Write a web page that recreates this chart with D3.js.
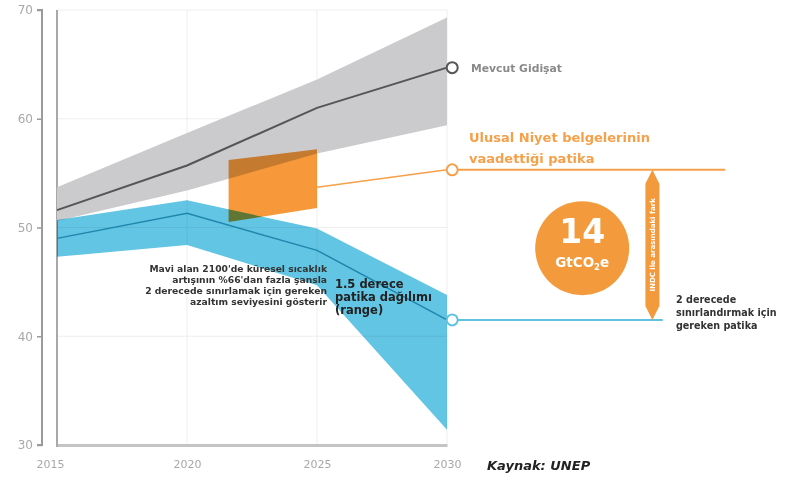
<!DOCTYPE html>
<html><head><meta charset="utf-8">
<script src="https://cdn.jsdelivr.net/npm/d3@7"></script>
<style>body{margin:0;background:#fff}svg{display:block;font-family:"DejaVu Sans",sans-serif}</style>
</head><body><svg id="c" width="785" height="482"></svg>
<script>
const years = [2015, 2020, 2025, 2030];
const trendLine = [51.6, 55.7, 61.0, 64.7];
const trendHigh = [53.7, 58.7, 63.6, 69.3];
const trendLow  = [50.6, 53.4, 56.8, 59.4];
const twoDegLine = [49.0, 51.3, 47.9, 41.5];
const twoDegHigh = [50.7, 52.5, 49.9, 43.8];
const twoDegLow  = [47.3, 48.4, 44.7, 31.4];
const ndcYears = [2021.6, 2025];
const ndcTop = [56.2, 57.2];
const ndcBottom = [50.5, 51.8];
const ndcPathYears = [2025, 2030];
const ndcPathValues = [53.7, 55.3];
const gap = 14;
const yTicks = [30, 40, 50, 60, 70];
const xTicks = [2015, 2020, 2025, 2030];

const svg = d3.select("#c");
const x = d3.scaleLinear().domain([2015, 2030]).range([57, 447]);
const y = d3.scaleLinear().domain([30, 70]).range([445, 10]);

// grid
svg.append("g").selectAll("line").data([40,50,60,70]).join("line")
  .attr("x1", x(2015)).attr("x2", x(2030)).attr("y1", d=>y(d)).attr("y2", d=>y(d))
  .attr("stroke", "#eeeeee").attr("stroke-width", 1);
svg.append("g").selectAll("line").data([2020, 2025, 2030]).join("line")
  .attr("x1", d=>x(d)).attr("x2", d=>x(d)).attr("y1", y(70)).attr("y2", y(30))
  .attr("stroke", "#eeeeee").attr("stroke-width", 1);

// y axis (offset)
const yAxis = d3.axisLeft(y).tickValues(yTicks).tickSize(5).tickPadding(4);
const ya = svg.append("g").attr("transform", "translate(42,0)").call(yAxis);
ya.select(".domain").attr("stroke", "#9a9a9a").attr("stroke-width", 2).attr("d", `M-5,${y(70)}H0V${y(30)}H-5`);
ya.selectAll(".tick line").attr("stroke", "#9a9a9a").attr("stroke-width", 1.5);
ya.selectAll("text").attr("fill", "#a8a8a8").attr("font-size", 12).attr("font-family", "DejaVu Sans");

// x axis
const xAxis = d3.axisBottom(x).tickValues(xTicks).tickFormat(d3.format("d")).tickSize(0).tickPadding(15);
const xa = svg.append("g").attr("transform", `translate(0,${y(30)})`).call(xAxis);
xa.select(".domain").attr("stroke", "#c4c4c4").attr("stroke-width", 3);
xa.selectAll("text").attr("fill", "#a8a8a8").attr("font-size", 11).attr("font-family", "DejaVu Sans")
  .attr("dx", d => d === 2015 ? -7 : 0);
svg.append("line").attr("x1", x(2015)).attr("x2", x(2015)).attr("y1", y(70)).attr("y2", y(30)+2)
  .attr("stroke", "#a8a8a8").attr("stroke-width", 2);

const idx = d3.range(years.length);
const area = (hi, lo) => d3.area().x(i=>x(years[i])).y0(i=>y(lo[i])).y1(i=>y(hi[i]))(idx);
const line = (v, xs) => d3.line().x(i=>x((xs||years)[i])).y(i=>y(v[i]))(d3.range(v.length));

// gray band
svg.append("path").attr("d", area(trendHigh, trendLow)).attr("fill", "#cbcbcd");
// blue band
svg.append("path").attr("d", area(twoDegHigh, twoDegLow)).attr("fill", "#62c5e3")
  .style("mix-blend-mode", "multiply");
// NDC polygon
const ndcPoly = [[ndcYears[0], ndcTop[0]],[ndcYears[1], ndcTop[1]],[ndcYears[1], ndcBottom[1]],[ndcYears[0], ndcBottom[0]]];
svg.append("path").attr("d", "M" + ndcPoly.map(p=>[x(p[0]), y(p[1])].join(",")).join("L") + "Z")
  .attr("fill", "#f7993a").style("mix-blend-mode", "multiply");

// lines
svg.append("path").attr("d", line(trendLine)).attr("fill", "none").attr("stroke", "#555").attr("stroke-width", 2);
svg.append("path").attr("d", line(twoDegLine)).attr("fill", "none").attr("stroke", "#1f86ad").attr("stroke-width", 1.5);
svg.append("path").attr("d", line(ndcPathValues, ndcPathYears)).attr("fill", "none").attr("stroke", "#f5a04a").attr("stroke-width", 1.5);

// horizontal extensions
const endYear = 2030.2;
svg.append("line").attr("x1", x(endYear)).attr("x2", x(2040.7)).attr("y1", y(ndcPathValues[1])).attr("y2", y(ndcPathValues[1]))
  .attr("stroke", "#f5a04a").attr("stroke-width", 2);
svg.append("line").attr("x1", x(endYear)).attr("x2", x(2038.3)).attr("y1", y(twoDegLine[3])).attr("y2", y(twoDegLine[3]))
  .attr("stroke", "#5fc2e0").attr("stroke-width", 2);

// end circles
[[trendLine[3], "#555"], [ndcPathValues[1], "#f5a04a"], [twoDegLine[3], "#5fc2e0"]].forEach(([v,c]) => {
  svg.append("circle").attr("cx", x(endYear)).attr("cy", y(v)).attr("r", 5.5)
    .attr("fill", "#fff").attr("stroke", c).attr("stroke-width", 2);
});

// double arrow
const ax = x(2037.9), aTop = y(ndcPathValues[1]), aBot = y(twoDegLine[3]);
svg.append("path").attr("d", `M${ax},${aTop} L${ax+7},${aTop+14} L${ax+7},${aBot-14} L${ax},${aBot} L${ax-7},${aBot-14} L${ax-7},${aTop+14} Z`)
  .attr("fill", "#f39a3c");
svg.append("text").attr("transform", `translate(${ax+2.5},${(aTop+aBot)/2}) rotate(-90)`)
  .attr("text-anchor", "middle").attr("fill", "#fff").attr("font-size", 7).attr("font-weight", 700)
  .text("INDC ile arasındaki fark");

// big circle
const cx = x(2035.2), cy = y(48.1);
svg.append("circle").attr("cx", cx).attr("cy", cy).attr("r", 47).attr("fill", "#f39a3c");
svg.append("text").attr("x", cx).attr("y", cy - 5).attr("text-anchor", "middle").attr("fill", "#fff")
  .attr("font-size", 33).attr("font-weight", 700).text(gap);
const gt = svg.append("text").attr("x", cx).attr("y", cy + 19).attr("text-anchor", "middle").attr("fill", "#fff")
  .attr("font-size", 13.5).attr("font-weight", 700);
gt.append("tspan").text("GtCO");
gt.append("tspan").attr("font-size", 8.5).attr("dy", 3).text("2");
gt.append("tspan").attr("dy", -3).text("e");

// labels
svg.append("text").attr("x", 471).attr("y", 72).attr("fill", "#8a8a8a").attr("font-size", 10.8).attr("font-weight", 700).text("Mevcut Gidişat");
const ul = svg.append("text").attr("fill", "#f5a04a").attr("font-size", 13).attr("font-weight", 700);
ul.append("tspan").attr("x", 469).attr("y", 142).text("Ulusal Niyet belgelerinin");
ul.append("tspan").attr("x", 469).attr("y", 163).text("vaadettiği patika");

const two = svg.append("text").attr("fill", "#333").attr("font-size", 9.6).attr("font-weight", 700);
["2 derecede", "sınırlandırmak için", "gereken patika"].forEach((t,i) =>
  two.append("tspan").attr("x", 676).attr("y", 303 + i*13).text(t));

const note = svg.append("text").attr("fill", "#333").attr("font-size", 9.2).attr("font-weight", 700).attr("text-anchor", "end");
["Mavi alan 2100'de küresel sıcaklık", "artışının %66'dan fazla şansla", "2 derecede sınırlamak için gereken", "azaltım seviyesini gösterir"].forEach((t,i) =>
  note.append("tspan").attr("x", 327).attr("y", 272 + i*11).text(t));
const r15 = svg.append("text").attr("fill", "#222").attr("font-size", 11.5).attr("font-weight", 700);
["1.5 derece", "patika dağılımı", "(range)"].forEach((t,i) =>
  r15.append("tspan").attr("x", 335).attr("y", 288 + i*13).text(t));

svg.append("text").attr("x", 487).attr("y", 470).attr("fill", "#222").attr("font-size", 13)
  .attr("font-weight", 700).attr("font-style", "italic").text("Kaynak: UNEP");
</script></body></html>
